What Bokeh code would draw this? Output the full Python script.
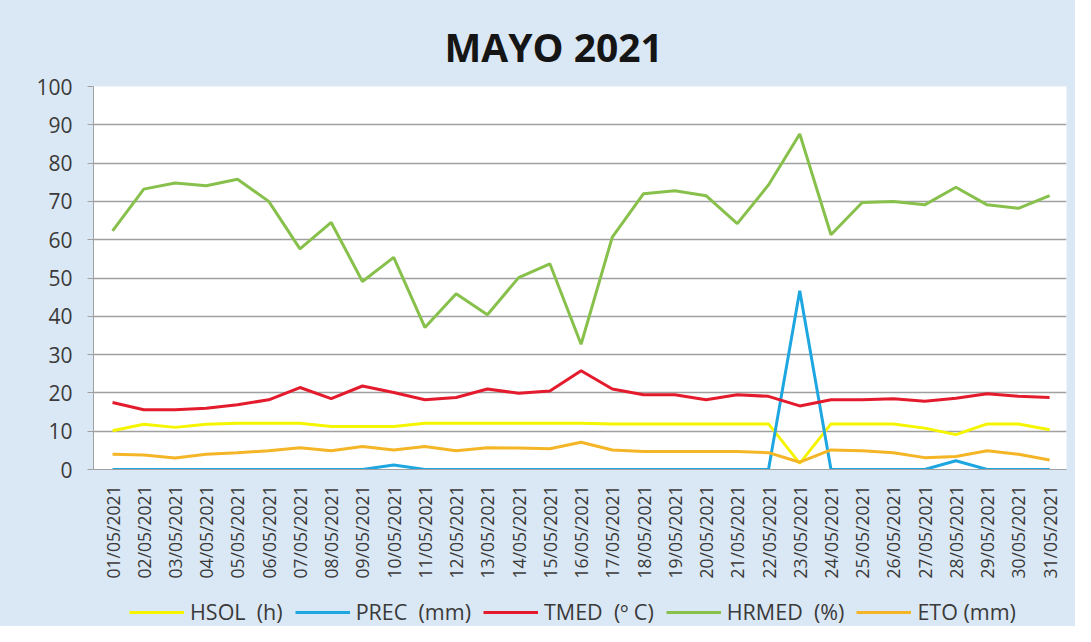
import math
from bokeh.plotting import figure
from bokeh.layouts import column
from bokeh.models import Legend, LegendItem, FixedTicker, Range1d
from bokeh.embed import file_html
from bokeh.resources import INLINE

dates = ["01/05/2021", "02/05/2021", "03/05/2021", "04/05/2021", "05/05/2021",
         "06/05/2021", "07/05/2021", "08/05/2021", "09/05/2021", "10/05/2021",
         "11/05/2021", "12/05/2021", "13/05/2021", "14/05/2021", "15/05/2021",
         "16/05/2021", "17/05/2021", "18/05/2021", "19/05/2021", "20/05/2021",
         "21/05/2021", "22/05/2021", "23/05/2021", "24/05/2021", "25/05/2021",
         "26/05/2021", "27/05/2021", "28/05/2021", "29/05/2021", "30/05/2021",
         "31/05/2021"]

hsol = [10.1, 11.8, 11.0, 11.8, 12.1, 12.1, 12.1, 11.2, 11.2, 11.2,
        12.1, 12.1, 12.1, 12.1, 12.1, 12.1, 11.9, 11.9, 11.9, 11.9,
        11.9, 11.9, 1.6, 11.9, 11.9, 11.9, 10.8, 9.1, 11.9, 11.9, 10.4]
prec = [0, 0, 0, 0, 0, 0, 0, 0, 0, 1.2,
        0, 0, 0, 0, 0, 0, 0, 0, 0, 0,
        0, 0, 46.7, 0, 0, 0, 0, 2.3, 0, 0, 0]
tmed = [17.5, 15.6, 15.6, 16.0, 16.9, 18.2, 21.4, 18.5, 21.8, 20.1,
        18.2, 18.8, 21.0, 19.9, 20.5, 25.8, 21.0, 19.5, 19.5, 18.2,
        19.5, 19.1, 16.6, 18.2, 18.2, 18.5, 17.8, 18.6, 19.8, 19.1, 18.8]
hrmed = [62.3, 73.2, 74.8, 74.1, 75.8, 70.0, 57.6, 64.5, 49.1, 55.4,
         37.1, 45.9, 40.4, 50.1, 53.7, 32.7, 60.7, 72.0, 72.8, 71.5,
         64.2, 74.3, 87.6, 61.3, 69.7, 70.0, 69.1, 73.7, 69.1, 68.2, 71.5]
eto = [4.0, 3.8, 3.0, 4.0, 4.4, 4.9, 5.7, 4.9, 6.0, 5.1,
       6.0, 4.9, 5.7, 5.6, 5.4, 7.1, 5.1, 4.7, 4.7, 4.7,
       4.7, 4.4, 1.9, 5.1, 4.9, 4.4, 3.1, 3.4, 4.9, 4.0, 2.5]

series_names = ["HSOL  (h)", "PREC  (mm)", "TMED  (º C)", "HRMED  (%)", "ETO (mm)"]
series_colors = ["#f5f500", "#1ea6e0", "#e31b2d", "#88c04c", "#f4b526"]
y_ticks = list(range(0, 101, 10))

BG = "#dae8f5"
x = list(range(1, len(dates) + 1))
series = [hsol, prec, tmed, hrmed, eto]

p = figure(width=1075, height=583, output_backend="svg", toolbar_location=None,
           x_range=Range1d(0.39, 31.54), y_range=Range1d(0, 100),
           min_border_left=93, min_border_right=9, min_border_top=86,
           min_border_bottom=114)

p.border_fill_color = BG
p.background_fill_color = "white"
p.outline_line_color = None

p.title.text = "MAYO 2021"
p.title.align = "left"
p.title.offset = 351
p.title.text_font = "Open Sans"
p.title.text_font_style = "bold"
p.title.text_font_size = "39px"
p.title.text_color = "#151515"
p.title.standoff = 27

p.xgrid.grid_line_color = None
p.ygrid.grid_line_color = "#a0a0a0"
p.ygrid.grid_line_width = 1.3
p.yaxis.ticker = FixedTicker(ticks=y_ticks)
p.ygrid.ticker = FixedTicker(ticks=y_ticks)

p.yaxis.axis_line_color = "#a0a0a0"
p.yaxis.major_tick_line_color = "#a0a0a0"
p.yaxis.major_tick_out = 6
p.yaxis.major_tick_in = 0
p.yaxis.minor_tick_line_color = None
p.yaxis.major_label_standoff = 15
p.yaxis.major_label_text_font = "Open Sans"
p.yaxis.major_label_text_font_size = "21px"
p.yaxis.major_label_text_color = "#3a3a3a"

p.xaxis.ticker = FixedTicker(ticks=x)
p.xaxis.major_label_overrides = {i: d for i, d in zip(x, dates)}
p.xaxis.major_label_orientation = math.pi / 2
p.xaxis.axis_line_color = "#a0a0a0"
p.xaxis.major_tick_line_color = None
p.xaxis.major_tick_out = 0
p.xaxis.major_tick_in = 0
p.xaxis.minor_tick_line_color = None
p.xaxis.major_label_standoff = 16
p.xaxis.major_label_text_font = "Open Sans"
p.xaxis.major_label_text_font_size = "17.5px"
p.xaxis.major_label_text_color = "#3a3a3a"

for color, vals in zip(series_colors, series):
    p.line(x, vals, line_color=color, line_width=3)

# legend strip below the chart (its data lie outside its own visible range)
pl = figure(width=1075, height=43, output_backend="svg", toolbar_location=None,
            x_range=Range1d(0.39, 31.54), y_range=Range1d(500, 501),
            x_axis_location=None, y_axis_location=None, min_border=0)
pl.border_fill_color = BG
pl.background_fill_color = None
pl.outline_line_color = None
pl.grid.visible = False

items = []
for name, color, vals in zip(series_names, series_colors, series):
    r = pl.line(x, vals, line_color=color, line_width=3)
    items.append(LegendItem(label=name, renderers=[r]))

legend = Legend(items=items, orientation="horizontal", location=(36, 0))
legend.background_fill_alpha = 0
legend.border_line_color = None
legend.label_text_font = "Open Sans"
legend.label_text_font_size = "21.5px"
legend.label_text_color = "#3a3a3a"
legend.glyph_width = 55
legend.glyph_height = 22
legend.label_standoff = 6
legend.spacing = 12
legend.padding = 0
legend.margin = 0
pl.add_layout(legend)

layout = column(p, pl, spacing=0)
layout.styles = {"background-color": BG}
open("out.html", "w").write(file_html(layout, INLINE))
